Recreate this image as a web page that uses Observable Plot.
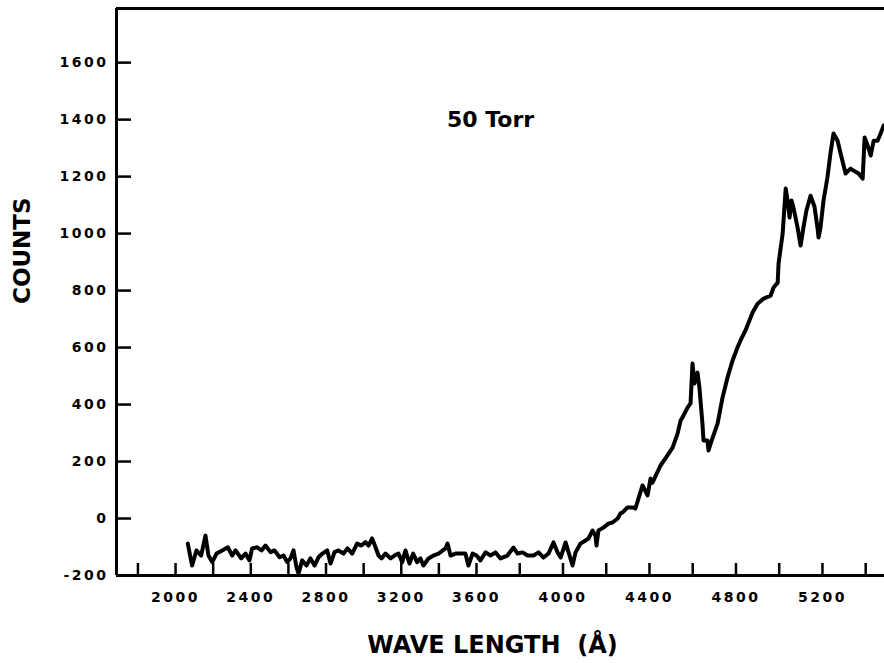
<!DOCTYPE html>
<html>
<head>
<meta charset="utf-8">
<script src="https://cdn.jsdelivr.net/npm/d3@7"></script>
<script src="https://cdn.jsdelivr.net/npm/@observablehq/plot@0.6"></script>
<style>
  body { margin: 0; background: #fff; }
  g[aria-label="y-axis tick label"] text,
  g[aria-label="x-axis tick label"] text { letter-spacing: 2.5px; }
  g[aria-label="x label"] text { letter-spacing: 2px; }
  g[aria-label="y label"] text { letter-spacing: 2px; }
  g[aria-label="pressure"] text { letter-spacing: 2.5px; }
</style>
</head>
<body>
<div id="chart"></div>
<script>
// Emission spectrum at 50 Torr: wavelength (Å) and detector counts
const wavelength = [
  2065, 2088, 2111, 2136, 2159, 2175, 2195, 2218, 2248, 2278,
  2301, 2319, 2349, 2372, 2393, 2407, 2434, 2457, 2478, 2505,
  2526, 2553, 2574, 2593, 2611, 2627, 2643, 2654, 2673, 2696,
  2717, 2739, 2760, 2781, 2806, 2824, 2845, 2866, 2893, 2914,
  2939, 2965, 2988, 3010, 3026, 3045, 3063, 3079, 3095, 3116,
  3143, 3164, 3185, 3205, 3222, 3244, 3263, 3284, 3302, 3318,
  3345, 3371, 3398, 3435, 3446, 3462, 3488, 3515, 3541, 3557,
  3579, 3600, 3618, 3642, 3665, 3688, 3711, 3743, 3771, 3790,
  3813, 3836, 3864, 3887, 3910, 3933, 3956, 3975, 3989, 4012,
  4026, 4044, 4058, 4081, 4104, 4118, 4137, 4150, 4155, 4164,
  4187, 4210, 4229, 4253, 4266, 4275, 4298, 4326, 4335, 4349,
  4368, 4391, 4405, 4414, 4451, 4474, 4507, 4530, 4544, 4557,
  4576, 4590, 4599, 4608, 4622, 4631, 4645, 4650, 4668, 4673,
  4691, 4715, 4738, 4761, 4784, 4807, 4821, 4844, 4877, 4900,
  4928, 4960, 4974, 4993, 4997, 5016, 5030, 5039, 5048, 5057,
  5066, 5085, 5099, 5112, 5126, 5145, 5163, 5177, 5182, 5191,
  5205, 5223, 5237, 5251, 5270, 5284, 5307, 5330, 5344, 5367,
  5386, 5395, 5409, 5423, 5437, 5455, 5469, 5483
];
const counts = [
  -88, -165, -112, -130, -60, -130, -153, -123, -112, -101,
  -130, -112, -140, -123, -147, -105, -101, -112, -95, -118,
  -112, -136, -130, -153, -140, -112, -171, -193, -147, -165,
  -140, -165, -136, -123, -112, -158, -118, -112, -123, -105,
  -123, -88, -95, -83, -95, -70, -101, -130, -140, -123,
  -140, -130, -123, -153, -112, -158, -123, -153, -140, -165,
  -140, -130, -123, -105, -88, -130, -123, -123, -123, -165,
  -123, -130, -147, -119, -130, -119, -140, -130, -102, -123,
  -119, -130, -130, -119, -137, -123, -84, -119, -137, -84,
  -119, -165, -119, -88, -77, -70, -42, -60, -95, -42,
  -32, -18, -14, 0, 18, 21, 39, 39, 35, 70,
  116, 81, 140, 126, 186, 211, 249, 298, 344, 361,
  389, 404, 544, 474, 512, 460, 333, 274, 274, 239,
  281, 333, 425, 495, 554, 600, 625, 660, 723, 754,
  772, 782, 811, 828, 895, 1000, 1158, 1116, 1056, 1116,
  1091, 1021, 958, 1021, 1081, 1133, 1095, 1021, 986, 1021,
  1116, 1197, 1281, 1351, 1326, 1281, 1211, 1228, 1221, 1211,
  1193, 1337, 1309, 1274, 1326, 1326, 1351, 1379
];

// Axis ticks and labels
const yTicks = d3.range(-200, 1601, 200);
const xTicks = d3.range(1800, 5401, 200);
const xTickLabels = d3.range(2000, 5201, 400);
const xLabel = "WAVE LENGTH  (Å)";
const yLabel = "COUNTS";
const pressureLabel = ["50 Torr"];
const pressureAt = {w: 3665, c: 1400};

// Plot extents (the wavelength axis of the original plotter is slightly
// compressed below 3600 Å, so the x scale is piecewise linear)
const xBreaks = [1686, 3600, 5487];
const yMin = -200, yMax = 1790;

const spectrum = wavelength.map((w, i) => ({w, c: counts[i]}));
const font = "'DejaVu Sans', sans-serif";
const plain = d => String(d); // ASCII hyphen for negatives

const chart = Plot.plot({
  width: 884,
  height: 663,
  marginTop: 8,
  marginBottom: 88,
  marginLeft: 116,
  marginRight: 0,
  style: {fontFamily: font, background: "white", color: "black", overflow: "visible"},
  x: {type: "linear", domain: xBreaks, range: [116, 476, 884]},
  y: {domain: [yMin, yMax]},
  marks: [
    // frame: left, bottom and top edges
    Plot.ruleX([xBreaks[0]], {stroke: "black", strokeWidth: 3}),
    Plot.ruleY([yMin], {stroke: "black", strokeWidth: 3}),
    Plot.ruleY([yMax], {stroke: "black", strokeWidth: 3}),
    // inward-pointing ticks
    Plot.axisY(yTicks, {tickSize: -15, tickFormat: () => "", strokeWidth: 2.5, label: null}),
    Plot.axisX(xTicks, {tickSize: -12, tickFormat: () => "", strokeWidth: 2.5, label: null}),
    // tick labels
    Plot.axisY(yTicks, {tickSize: 0, tickPadding: 8, fontSize: 14, fontWeight: "bold", tickFormat: plain, label: null}),
    Plot.axisX(xTickLabels, {tickSize: 0, tickPadding: 17, fontSize: 14, fontWeight: "bold", tickFormat: plain, label: null}),
    // spectrum trace
    Plot.line(spectrum, {x: "w", y: "c", stroke: "black", strokeWidth: 4, strokeLinejoin: "round", strokeLinecap: "round"}),
    // annotations
    Plot.text(pressureLabel, {x: () => pressureAt.w, y: () => pressureAt.c, text: d => d, fontSize: 22, fontWeight: "bold", ariaLabel: "pressure"}),
    Plot.text([xLabel], {frameAnchor: "bottom", dx: -8, dy: 77, text: d => d, fontSize: 24, fontWeight: "bold", ariaLabel: "x label"}),
    Plot.text([yLabel], {frameAnchor: "left", dx: -94, dy: 12, rotate: -90, text: d => d, fontSize: 23, fontWeight: "bold", ariaLabel: "y label"})
  ]
});

document.getElementById("chart").append(chart);
</script>
</body>
</html>
